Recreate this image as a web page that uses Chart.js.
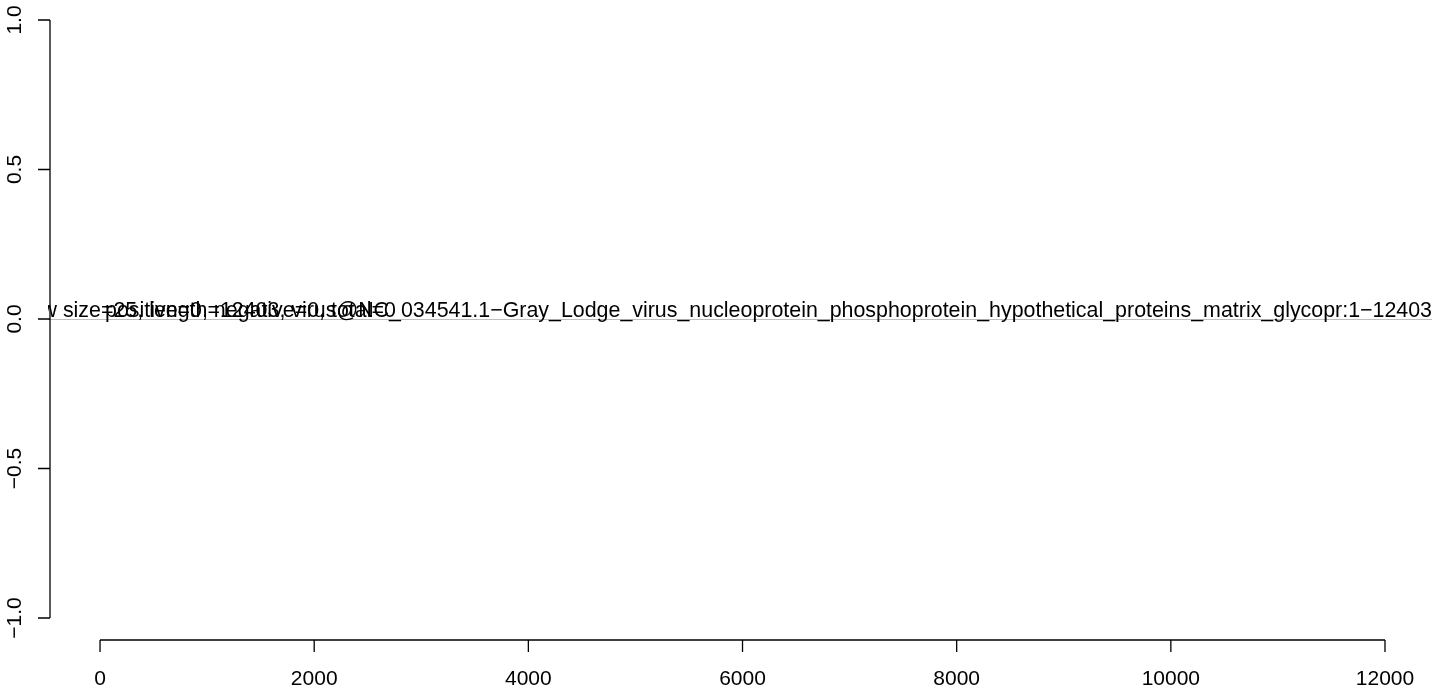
<!DOCTYPE html>
<html>
<head>
<meta charset="utf-8">
<script src="https://cdn.jsdelivr.net/npm/chart.js@4"></script>
<style>
html,body{margin:0;padding:0;background:#fff;}
#wrap{width:1444px;height:691px;position:relative;}
</style>
</head>
<body>
<div id="wrap"><canvas id="c" width="1444" height="691"></canvas></div>
<script>
// ---- data ----
const seqLength = 12403;
const xTicks = [0, 2000, 4000, 6000, 8000, 10000, 12000];
const xTickLabels = ['0', '2000', '4000', '6000', '8000', '10000', '12000'];
const yTicks = [-1, -0.5, 0, 0.5, 1];
const yTickLabels = ['\u22121.0', '\u22120.5', '0.0', '0.5', '1.0'];
const positiveX = [1, seqLength];
const positiveY = [0, 0];
const titleText = 'window size=25, length=12403, virus@NC_034541.1\u2212Gray_Lodge_virus_nucleoprotein_phosphoprotein_hypothetical_proteins_matrix_glycopr:1\u221212403';
const statText = 'positive=0, negative=0, total=0';

const FONT = '21px "Liberation Sans", Arial, Helvetica, sans-serif';
const TEXT_FONT = '21.4px "Liberation Sans", Arial, Helvetica, sans-serif';

const rPlot = {
  id: 'rPlot',
  beforeDatasetsDraw(chart) {
    const {ctx, chartArea: a, scales: {x, y}} = chart;
    // abline h=0
    const y0 = y.getPixelForValue(0);
    ctx.save();
    ctx.strokeStyle = '#bebebe';
    ctx.lineWidth = 1;
    ctx.beginPath();
    ctx.moveTo(a.left, y0 + 0.5);
    ctx.lineTo(a.right, y0 + 0.5);
    ctx.stroke();
    ctx.restore();
  },
  afterDraw(chart) {
    const {ctx, chartArea: a, scales: {x, y}} = chart;
    ctx.save();
    ctx.strokeStyle = '#000';
    ctx.fillStyle = '#000';
    ctx.lineWidth = 1.3;
    ctx.font = FONT;
    // y axis
    const yAx = a.left + 2;
    ctx.beginPath();
    ctx.moveTo(yAx, y.getPixelForValue(yTicks[0]));
    ctx.lineTo(yAx, y.getPixelForValue(yTicks[yTicks.length - 1]));
    yTicks.forEach(v => {
      const p = y.getPixelForValue(v);
      ctx.moveTo(yAx, p);
      ctx.lineTo(yAx - 12, p);
    });
    ctx.stroke();
    yTicks.forEach((v, i) => {
      const p = y.getPixelForValue(v);
      ctx.save();
      ctx.translate(15, p);
      ctx.rotate(-Math.PI / 2);
      ctx.textAlign = 'center';
      ctx.textBaseline = 'middle';
      ctx.fillText(yTickLabels[i], 0, 0);
      ctx.restore();
    });
    // x axis
    const xAy = 640;
    ctx.beginPath();
    ctx.moveTo(x.getPixelForValue(xTicks[0]), xAy);
    ctx.lineTo(x.getPixelForValue(xTicks[xTicks.length - 1]), xAy);
    xTicks.forEach(v => {
      const p = x.getPixelForValue(v);
      ctx.moveTo(p, xAy);
      ctx.lineTo(p, xAy + 12);
    });
    ctx.stroke();
    ctx.textAlign = 'center';
    ctx.textBaseline = 'middle';
    xTicks.forEach((v, i) => {
      ctx.fillText(xTickLabels[i], x.getPixelForValue(v), 679);
    });
    // in-plot texts (clipped to plot region)
    ctx.beginPath();
    ctx.rect(a.left, a.top, a.right - a.left, a.bottom - a.top);
    ctx.clip();
    ctx.font = TEXT_FONT;
    const yt = y.getPixelForValue(0) - 2;
    ctx.textBaseline = 'alphabetic';
    ctx.textAlign = 'right';
    ctx.fillText(titleText, a.right, yt);
    ctx.textAlign = 'left';
    ctx.fillText(statText, x.getPixelForValue(0) + 5, yt);
    ctx.restore();
  }
};

new Chart(document.getElementById('c'), {
  type: 'scatter',
  data: {
    datasets: [{
      label: 'positive',
      data: positiveX.map((v, i) => ({x: v, y: positiveY[i]})),
      showLine: true,
      borderColor: 'rgba(0,0,0,0)',
      pointRadius: 0,
      borderWidth: 0
    }]
  },
  options: {
    responsive: false,
    animation: false,
    layout: {padding: {left: 48, right: 12, top: 20, bottom: 73}},
    plugins: {legend: {display: false}, tooltip: {enabled: false}},
    scales: {
      x: {type: 'linear', min: -486, max: 12439, display: false},
      y: {type: 'linear', min: -1, max: 1, display: false}
    }
  },
  plugins: [rPlot]
});
</script>
</body>
</html>
